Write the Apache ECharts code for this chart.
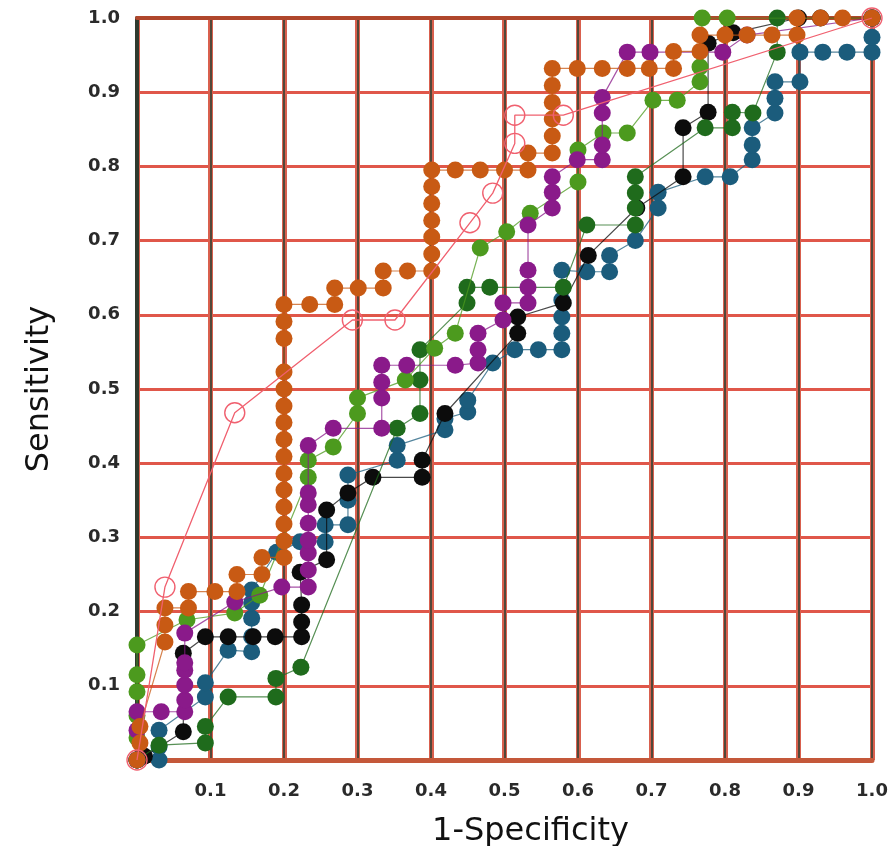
<!DOCTYPE html>
<html>
<head>
<meta charset="utf-8">
<script src="https://cdn.jsdelivr.net/npm/echarts@6/dist/echarts.min.js"></script>
<style>
  html, body { margin: 0; padding: 0; background: #ffffff; }
  #chart { width: 891px; height: 846px; }
</style>
</head>
<body>
<div id="chart"></div>
<script>
// ROC curves: [1-specificity, sensitivity] operating points per marker
const tealRoc = [[0,0],[0.03,0],[0.03,0.018],[0.03,0.04],[0.093,0.085],[0.093,0.104],[0.124,0.148],[0.156,0.146],[0.156,0.166],[0.156,0.191],[0.156,0.212],[0.156,0.229],[0.19,0.28],[0.222,0.294],[0.256,0.294],[0.256,0.317],[0.287,0.317],[0.287,0.35],[0.287,0.384],[0.354,0.404],[0.354,0.424],[0.419,0.445],[0.419,0.46],[0.45,0.469],[0.45,0.485],[0.484,0.535],[0.514,0.553],[0.546,0.553],[0.578,0.553],[0.578,0.575],[0.578,0.597],[0.578,0.62],[0.578,0.66],[0.612,0.658],[0.643,0.658],[0.643,0.68],[0.678,0.7],[0.709,0.744],[0.709,0.765],[0.773,0.786],[0.807,0.786],[0.837,0.809],[0.837,0.829],[0.837,0.852],[0.868,0.872],[0.868,0.892],[0.868,0.914],[0.902,0.914],[0.902,0.954],[0.933,0.954],[0.966,0.954],[1,0.954],[1,0.974],[1,1]];

const blackRoc = [[0,0],[0.01,0.005],[0.063,0.038],[0.063,0.144],[0.093,0.166],[0.124,0.166],[0.158,0.166],[0.188,0.166],[0.224,0.166],[0.224,0.186],[0.224,0.209],[0.222,0.253],[0.258,0.27],[0.258,0.337],[0.287,0.36],[0.321,0.381],[0.388,0.381],[0.388,0.404],[0.419,0.467],[0.518,0.575],[0.518,0.597],[0.58,0.616],[0.614,0.68],[0.68,0.744],[0.743,0.786],[0.743,0.852],[0.777,0.873],[0.777,0.966],[0.811,0.98],[0.9,1],[0.93,1],[1,1]];

const darkGreenRoc = [[0,0],[0.03,0.02],[0.093,0.023],[0.093,0.045],[0.124,0.085],[0.189,0.085],[0.189,0.11],[0.223,0.125],[0.354,0.447],[0.385,0.467],[0.385,0.512],[0.385,0.553],[0.449,0.616],[0.449,0.637],[0.48,0.637],[0.58,0.637],[0.612,0.721],[0.678,0.721],[0.678,0.744],[0.678,0.764],[0.678,0.786],[0.773,0.852],[0.81,0.852],[0.81,0.873],[0.838,0.872],[0.871,0.954],[0.871,1],[1,1]];

const lightGreenRoc = [[0,0],[0,0.03],[0,0.06],[0,0.092],[0,0.115],[0,0.155],[0.068,0.189],[0.133,0.198],[0.167,0.222],[0.233,0.381],[0.233,0.404],[0.267,0.422],[0.3,0.467],[0.3,0.488],[0.365,0.512],[0.405,0.555],[0.433,0.575],[0.467,0.69],[0.503,0.712],[0.535,0.737],[0.6,0.779],[0.6,0.822],[0.634,0.845],[0.667,0.845],[0.702,0.889],[0.735,0.889],[0.766,0.914],[0.766,0.934],[0.769,1],[0.803,1],[1,1]];

const purpleRoc = [[0,0],[0,0.04],[0,0.065],[0.033,0.065],[0.065,0.065],[0.065,0.081],[0.065,0.101],[0.065,0.121],[0.065,0.131],[0.065,0.171],[0.133,0.213],[0.197,0.233],[0.233,0.233],[0.233,0.256],[0.233,0.279],[0.233,0.296],[0.233,0.319],[0.233,0.344],[0.233,0.36],[0.233,0.424],[0.267,0.447],[0.333,0.447],[0.333,0.488],[0.333,0.509],[0.333,0.532],[0.367,0.532],[0.433,0.532],[0.464,0.535],[0.464,0.553],[0.464,0.575],[0.498,0.593],[0.498,0.616],[0.532,0.616],[0.532,0.637],[0.532,0.66],[0.532,0.721],[0.565,0.744],[0.565,0.765],[0.565,0.786],[0.599,0.809],[0.633,0.809],[0.633,0.829],[0.633,0.872],[0.633,0.893],[0.667,0.954],[0.698,0.954],[0.797,0.954],[0.83,0.977],[1,1]];

const orangeRoc = [[0,0],[0.004,0.023],[0.004,0.045],[0.038,0.159],[0.038,0.182],[0.038,0.205],[0.07,0.205],[0.07,0.227],[0.106,0.227],[0.136,0.227],[0.136,0.25],[0.17,0.25],[0.17,0.273],[0.2,0.273],[0.2,0.295],[0.2,0.318],[0.2,0.341],[0.2,0.364],[0.2,0.386],[0.2,0.409],[0.2,0.432],[0.2,0.455],[0.2,0.477],[0.2,0.5],[0.2,0.523],[0.2,0.568],[0.2,0.591],[0.2,0.614],[0.235,0.614],[0.269,0.614],[0.269,0.636],[0.301,0.636],[0.335,0.636],[0.335,0.659],[0.368,0.659],[0.401,0.659],[0.401,0.682],[0.401,0.705],[0.401,0.727],[0.401,0.75],[0.401,0.773],[0.401,0.795],[0.433,0.795],[0.467,0.795],[0.5,0.795],[0.532,0.795],[0.532,0.818],[0.565,0.818],[0.565,0.841],[0.565,0.864],[0.565,0.886],[0.565,0.909],[0.565,0.932],[0.599,0.932],[0.633,0.932],[0.667,0.932],[0.697,0.932],[0.73,0.932],[0.73,0.955],[0.766,0.955],[0.766,0.977],[0.8,0.977],[0.83,0.977],[0.864,0.977],[0.898,0.977],[0.898,1],[0.93,1],[0.96,1],[1,1]];

const pinkRoc = [[0,0],[0.038,0.233],[0.133,0.468],[0.293,0.593],[0.351,0.593],[0.453,0.724],[0.484,0.764],[0.514,0.831],[0.514,0.869],[0.58,0.869],[1,1]];

const tickValues = [0.1,0.2,0.3,0.4,0.5,0.6,0.7,0.8,0.9,1.0];
const xAxisTitle = '1-Specificity';
const yAxisTitle = 'Sensitivity';

const tickFont = { fontFamily: 'DejaVu Sans', fontWeight: 'bold', fontSize: 18, color: '#2a2a2a' };
const titleFont = { fontFamily: 'DejaVu Sans', fontSize: 32, color: '#111111' };

function tickLabel(v) {
  return tickValues.some(t => Math.abs(t - v) < 1e-6) ? v.toFixed(1) : '';
}

function dots(name, data, color, z) {
  return {
    name: name,
    type: 'line',
    data: data,
    symbol: 'circle',
    symbolSize: 17,
    showAllSymbol: true,
    z: z,
    itemStyle: { color: color },
    lineStyle: { color: color, width: 1.2, opacity: 0.75 },
    emphasis: { disabled: true },
    animation: false
  };
}

const chart = echarts.init(document.getElementById('chart'), null, { renderer: 'canvas' });

chart.setOption({
  backgroundColor: '#ffffff',
  animation: false,
  grid: { left: 137, right: 19, top: 18, bottom: 86, containLabel: false, outerBoundsMode: 'none' },
  xAxis: [
    {
      type: 'value', min: 0, max: 1, interval: 0.1, position: 'bottom',
      name: xAxisTitle, nameLocation: 'middle', nameGap: 56,
      nameTextStyle: Object.assign({ padding: [0, 0, 0, 52] }, titleFont),
      axisLine: { show: true, lineStyle: { color: '#c4583a', width: 5 } },
      axisTick: { show: false },
      axisLabel: Object.assign({ margin: 22, formatter: tickLabel }, tickFont),
      splitLine: { show: true, lineStyle: { color: '#d9604e', width: 5 } }
    },
    {
      type: 'value', min: 0, max: 1, interval: 0.1, position: 'top',
      axisLine: { show: true, lineStyle: { color: '#b0472c', width: 4 } },
      axisTick: { show: false },
      axisLabel: { show: false },
      splitLine: { show: true, lineStyle: { color: '#3b4436', width: 2, opacity: 0.85 } }
    }
  ],
  yAxis: {
    type: 'value', min: 0, max: 1, interval: 0.1,
    name: yAxisTitle, nameLocation: 'middle', nameGap: 61, nameRotate: 90,
    nameTextStyle: Object.assign({ padding: [0, 0, 20, 0] }, titleFont),
    axisLine: { show: true, lineStyle: { color: '#2e3a2e', width: 4 } },
    axisTick: { show: false },
    axisLabel: Object.assign({ margin: 17, formatter: tickLabel }, tickFont),
    splitLine: { show: true, lineStyle: { color: '#e0574a', width: 3 } }
  },
  series: [
    dots('teal', tealRoc, '#1b5c7c', 2),
    dots('black', blackRoc, '#0c0c0c', 3),
    dots('darkgreen', darkGreenRoc, '#1f6b1c', 4),
    dots('lightgreen', lightGreenRoc, '#4c9a1e', 5),
    dots('purple', purpleRoc, '#8a1a8a', 6),
    dots('orange', orangeRoc, '#c85a14', 7),
    {
      name: 'pink',
      type: 'line',
      data: pinkRoc,
      symbol: 'circle',
      symbolSize: 20,
      showAllSymbol: true,
      z: 8,
      itemStyle: { color: 'rgba(255,255,255,0)', borderColor: '#f0606f', borderWidth: 1.4 },
      lineStyle: { color: '#f0606f', width: 1.3 },
      emphasis: { disabled: true },
      animation: false
    }
  ]
});
</script>
</body>
</html>
